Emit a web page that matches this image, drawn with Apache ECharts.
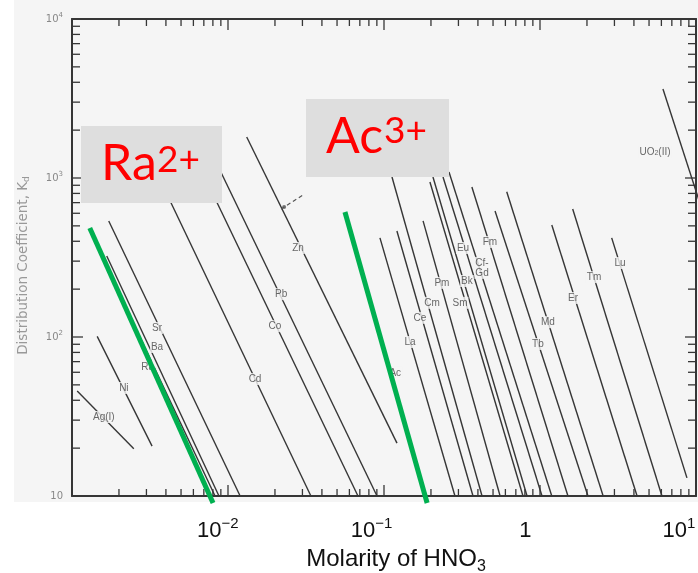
<!DOCTYPE html>
<html>
<head>
<meta charset="utf-8">
<script src="https://cdn.jsdelivr.net/npm/echarts@6/dist/echarts.min.js"></script>
<style>
  html, body { margin: 0; padding: 0; background: #fff; }
  #chart { width: 698px; height: 573px; }
</style>
</head>
<body>
<div id="chart"></div>
<script>
// Kd vs molarity of HNO3 — points as [molarity, Kd]
const elements = ['Ag(I)', 'Ni', 'Sr', 'Ba', 'Ra', 'Cd', 'Co', 'Pb', 'Zn', 'La', 'Ce', 'Cm', 'Pm', 'Sm', 'Bk', 'Eu', 'Cf-Gd', 'Fm', 'Tb', 'Md', 'Er', 'Tm', 'Lu', 'UO2(II)'];
const lineFrom = [
  [0.00108, 45.7], [0.00145, 101], [0.00172, 537], [0.00167, 323], [0.00183, 228],
  [0.00394, 841], [0.00767, 865], [0.00826, 1298], [0.01318, 1811],
  [0.0942, 420], [0.121, 464], [0.1125, 1014], [0.178, 537], [0.197, 944],
  [0.206, 1014], [0.239, 1014], [0.261, 1091], [0.366, 878], [0.515, 620],
  [0.612, 820], [1.19, 506], [1.62, 638], [2.88, 420], [6.14, 3630]
];
const lineTo = [
  [0.00249, 19.8], [0.00326, 20.6], [0.0119, 10.1], [0.00875, 10], [0.00826, 10],
  [0.034, 10], [0.0681, 10], [0.0902, 10], [0.1211, 21.5],
  [0.285, 10], [0.372, 10], [0.425, 10], [0.555, 10], [0.778, 10],
  [0.826, 10], [1.03, 10], [1.19, 10], [1.51, 10], [2.03, 10],
  [2.54, 10], [4.19, 10], [6.05, 10], [8.75, 13], [14.3, 280]
];
const labelAt = [
  [0.0016, 31.4], [0.00215, 47.8], [0.00351, 114], [0.00351, 86.5], [0.00305, 64.7],
  [0.0149, 54.4], [0.02, 117], [0.0219, 186], [0.0281, 363],
  [0.147, 93], [0.17, 132], [0.203, 164], [0.235, 219], [0.307, 164],
  [0.34, 225], [0.321, 363], [0.425, 272], [0.477, 396], [0.97, 90.4],
  [1.125, 124], [1.63, 176], [2.22, 238], [3.26, 292], [5.46, 1458]
];
// Ac line itself lies under the green overlay, only its label shows
const acLabelAt = [0.118, 59.4];

// green overlay lines
const greenRa = [[0.0013, 485], [0.00802, 9.04]];
const greenAc = [[0.0562, 611], [0.189, 9.04]];

// scan marks near Zn
const dashMark = [[0.0219, 638], [0.0303, 782]];
const dotMark = [[0.0229, 657]];

const tickMult = [2, 3, 4, 5, 6, 7, 8, 9];
const xDecades = [0.001, 0.01, 0.1, 1, 10];
const yDecades = [10, 100, 1000, 10000];
const xLabels = ['10{s|−2}', '10{s|−1}', '1', '10{s|1}'];

const BG = '#f5f5f5';
const INK = '#363636';

// ticks of the scanned frame: [x, y, dx, dy]
const ticks = [];
xDecades.forEach((d, i) => {
  ticks.push([d, 10, 0, -11], [d, 10000, 0, 11]);
  if (i < xDecades.length - 1) tickMult.forEach(m => ticks.push([d * m, 10, 0, -7], [d * m, 10000, 0, 7]));
});
yDecades.forEach((d, i) => {
  ticks.push([0.001, d, 11, 0], [10, d, -11, 0]);
  if (i < yDecades.length - 1) tickMult.forEach(m => ticks.push([0.001, d * m, 8, 0], [10, d * m, -8, 0]));
});

function supLabel(v) {
  const e = Math.round(Math.log10(v));
  return e === 1 ? '10' : '10{s|' + e + '}';
}

const frameAxis = {
  type: 'log', min: 0, max: 0,
  axisLine: { show: true, lineStyle: { color: INK, width: 2 } },
  axisTick: { show: false },
  axisLabel: { show: false },
  splitLine: { show: false }
};

const series = [];
elements.forEach((name, i) => {
  series.push({
    type: 'line', data: [lineFrom[i], lineTo[i]], symbol: 'none', silent: true,
    lineStyle: { color: INK, width: 1.4 }, z: 3, clip: true
  });
});
series.push({
  type: 'line', data: dashMark, symbol: 'none', silent: true,
  lineStyle: { color: '#555', width: 1.2, type: [4, 3] }, z: 3
});
series.push({
  type: 'scatter', data: dotMark, symbolSize: 4, silent: true,
  itemStyle: { color: '#555' }, z: 3
});
series.push({
  type: 'scatter', silent: true, symbolSize: 1, z: 5,
  itemStyle: { color: 'transparent' },
  data: elements.map((n, i) => ({ value: labelAt[i], name: n })).concat([{ value: acLabelAt, name: 'Ac' }]),
  label: {
    show: true, position: 'inside', color: '#444', fontSize: 10, fontFamily: 'Liberation Sans',
    backgroundColor: BG, padding: [1, 1],
    formatter: p => p.name === 'UO2(II)' ? 'UO{b|2}(II)' : (p.name === 'Cf-Gd' ? 'Cf-\nGd' : p.name),
    rich: { b: { fontSize: 7, verticalAlign: 'bottom', color: '#444' } }
  }
});
[greenRa, greenAc].forEach(g => series.push({
  type: 'line', data: g, symbol: 'none', silent: true, clip: false,
  lineStyle: { color: '#00b050', width: 5 }, z: 10
}));
series.push({
  type: 'custom', coordinateSystem: 'cartesian2d', xAxisIndex: 0, yAxisIndex: 0,
  data: ticks, silent: true, clip: false, z: 4,
  renderItem: (params, api) => {
    const p = api.coord([api.value(0), api.value(1)]);
    return {
      type: 'line',
      shape: { x1: p[0], y1: p[1], x2: p[0] + api.value(2), y2: p[1] + api.value(3) },
      style: { stroke: INK, lineWidth: 1.3 }
    };
  }
});

const option = {
  animation: false,
  backgroundColor: '#fff',
  grid: [
    { left: 72, top: 19, width: 624, height: 477, outerBoundsMode: 'none' },
    { left: 64, top: 19, width: 615, height: 477, outerBoundsMode: 'none' }
  ],
  xAxis: [
    Object.assign({}, frameAxis, { gridIndex: 0, min: 0.001, max: 10, position: 'bottom' }),
    Object.assign({}, frameAxis, { gridIndex: 0, min: 0.001, max: 10, position: 'top' }),
    {
      type: 'log', gridIndex: 1, min: 0.001, max: 10, position: 'bottom',
      axisLine: { show: false }, axisTick: { show: false }, splitLine: { show: false },
      axisLabel: {
        showMinLabel: false, margin: 20, color: '#111', fontSize: 22, lineHeight: 30,
        fontFamily: 'Liberation Sans',
        formatter: v => {
          const e = Math.round(Math.log10(v));
          return e < -2 ? '' : xLabels[e + 2];
        },
        rich: { s: { fontSize: 15, lineHeight: 16, verticalAlign: 'top', fontFamily: 'Liberation Sans', color: '#111' } }
      },
      name: 'Molarity of HNO{sub|3}', nameLocation: 'middle', nameGap: 47, nameMoveOverlap: false,
      nameTextStyle: {
        color: '#111', fontSize: 24, lineHeight: 32, fontFamily: 'Liberation Sans', padding: [0, 0, 0, 49],
        rich: { sub: { fontSize: 16, lineHeight: 16, verticalAlign: 'bottom', fontFamily: 'Liberation Sans', color: '#111' } }
      }
    }
  ],
  yAxis: [
    Object.assign({}, frameAxis, {
      gridIndex: 0, min: 10, max: 10000, position: 'left',
      axisLabel: {
        show: true, color: '#888', fontSize: 10, lineHeight: 14, margin: 9, fontFamily: 'DejaVu Sans',
        formatter: supLabel,
        rich: { s: { fontSize: 7, lineHeight: 8, verticalAlign: 'top', color: '#888' } }
      },
      name: 'Distribution Coefficient, K{d|d}', nameLocation: 'middle', nameGap: 41,
      nameTextStyle: {
        color: '#999', fontSize: 13.5, fontFamily: 'DejaVu Sans', lineHeight: 16, padding: [0, 16, 0, 0],
        rich: { d: { fontSize: 9, lineHeight: 10, verticalAlign: 'bottom', color: '#999' } }
      }
    }),
    Object.assign({}, frameAxis, { gridIndex: 0, min: 10, max: 10000, position: 'right' }),
    { type: 'value', gridIndex: 1, show: false }
  ],
  graphic: [
    { type: 'rect', z: -10, silent: true, shape: { x: 14, y: 0, width: 684, height: 502 }, style: { fill: BG } },
    { type: 'rect', z: 100, silent: true, shape: { x: 81, y: 126, width: 141, height: 77 }, style: { fill: '#dedede' } },
    { type: 'text', z: 101, x: 101, y: 164, silent: true,
      style: { text: 'Ra', fill: '#ff0000', fontSize: 50, fontFamily: 'Lato', verticalAlign: 'middle' } },
    { type: 'text', z: 101, x: 157, y: 160, silent: true,
      style: { text: '2+', fill: '#ff0000', fontSize: 37, fontFamily: 'Lato', verticalAlign: 'middle' } },
    { type: 'rect', z: 100, silent: true, shape: { x: 306, y: 99, width: 143, height: 78 }, style: { fill: '#dedede' } },
    { type: 'text', z: 101, x: 326, y: 137, silent: true,
      style: { text: 'Ac', fill: '#ff0000', fontSize: 50, fontFamily: 'Lato', verticalAlign: 'middle' } },
    { type: 'text', z: 101, x: 384, y: 131, silent: true,
      style: { text: '3+', fill: '#ff0000', fontSize: 37, fontFamily: 'Lato', verticalAlign: 'middle' } }
  ],
  series: series
};

const chart = echarts.init(document.getElementById('chart'));
chart.setOption(option);
</script>
</body>
</html>
